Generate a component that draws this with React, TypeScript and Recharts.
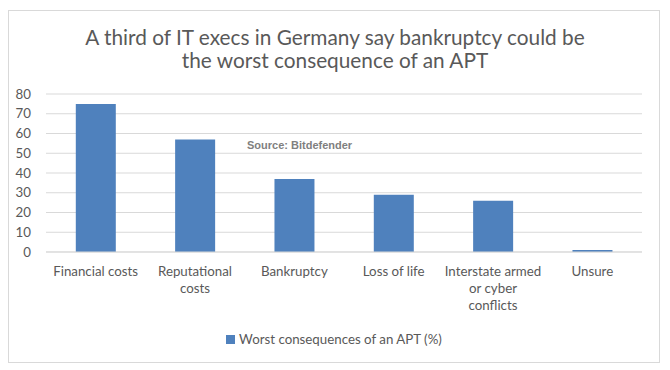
import React from 'react'
import { BarChart, Bar, XAxis, YAxis, CartesianGrid, Legend } from 'recharts'

const categories = [
    'Financial costs',
    'Reputational costs',
    'Bankruptcy',
    'Loss of life',
    'Interstate armed or cyber conflicts',
    'Unsure',
]
// how each category label wraps under the axis
const tickLines: string[][] = [
    ['Financial costs'],
    ['Reputational', 'costs'],
    ['Bankruptcy'],
    ['Loss of life'],
    ['Interstate armed', 'or cyber', 'conflicts'],
    ['Unsure'],
]
const worstConsequences = [75, 57, 37, 29, 26, 1]
const yTicks = [0, 10, 20, 30, 40, 50, 60, 70, 80]

const seriesName = 'Worst consequences of an APT (%)'
const font = 'Lato, Carlito, Calibri, "Open Sans", sans-serif'
const textGray = '#595959'

const data = categories.map((name, i) => ({ name, value: worstConsequences[i] }))

const CategoryTick = (props: any) => {
    const { x, y, payload } = props
    const idx = categories.indexOf(payload.value)
    const lines = idx >= 0 ? tickLines[idx] : [payload.value]
    return (
        <text x={x} y={y + 24} textAnchor="middle" fill={textGray} fontSize={13.3} fontFamily={font}>
            {lines.map((line, i) => (
                <tspan key={i} x={x} dy={i === 0 ? 0 : 17}>{line}</tspan>
            ))}
        </text>
    )
}

export default function App() {
    return (
        <div style={{ position: 'absolute', left: 0, top: 0, width: 670, height: 370, background: '#fff', fontFamily: font }}>
            <div style={{
                position: 'absolute', left: 8, top: 10, width: 652, height: 353,
                border: '1px solid #d9d9d9', boxSizing: 'border-box',
            }} />
            <div style={{
                position: 'absolute', left: 0, top: 25, width: 670, textAlign: 'center',
                color: textGray, fontSize: 20.8, lineHeight: '23px',
            }}>
                A third of IT execs in Germany say bankruptcy could be<br />
                the worst consequence of an APT
            </div>
            <div style={{
                position: 'absolute', left: 247, top: 139, color: '#7f7f7f',
                fontSize: 11, fontWeight: 'bold', fontFamily: '"Liberation Sans", Arial, sans-serif',
            }}>
                Source: Bitdefender
            </div>
            <div style={{ position: 'absolute', left: 0, top: 0 }}>
                <BarChart
                    width={670}
                    height={370}
                    data={data}
                    margin={{ top: 75, right: 28, left: 0, bottom: 117 }}
                    barCategoryGap="30%"
                >
                    <CartesianGrid vertical={false} stroke="#d9d9d9" />
                    <XAxis
                        dataKey="name"
                        interval={0}
                        tickLine={false}
                        axisLine={{ stroke: '#d9d9d9' }}
                        tickSize={0}
                        tickMargin={0}
                        height={1}
                        tick={<CategoryTick />}
                    />
                    <YAxis
                        width={46}
                        domain={[0, 80]}
                        ticks={yTicks}
                        interval={0}
                        tickLine={false}
                        axisLine={false}
                        tickSize={0}
                        tickMargin={15}
                        tick={{ fill: textGray, fontSize: 13.3, fontFamily: font }}
                    />
                    <Legend
                        verticalAlign="top"
                        iconType="square"
                        iconSize={9}
                        formatter={(value: string) => (
                            <span style={{ color: textGray, fontSize: 13.3, fontFamily: font }}>{value}</span>
                        )}
                        wrapperStyle={{ position: 'absolute', top: 329, left: 4, width: 670, lineHeight: '18px' }}
                    />
                    <Bar
                        dataKey="value"
                        name={seriesName}
                        fill="#4f81bd"
                        isAnimationActive={false}
                    />
                </BarChart>
            </div>
        </div>
    )
}
